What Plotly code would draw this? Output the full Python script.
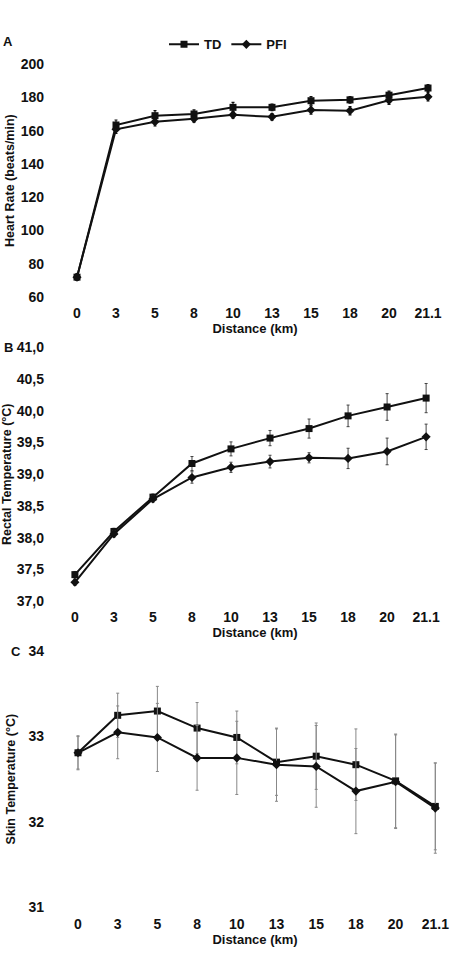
import plotly.graph_objects as go

# ---------------- data ----------------
distance_labels = ["0", "3", "5", "8", "10", "13", "15", "18", "20", "21.1"]

hr_td = [72, 163.4, 169, 170, 174, 174, 178, 178.5, 181.3, 185.6]
hr_td_err = [2, 3, 3, 2.5, 3, 2, 2.5, 2, 2.5, 2]
hr_pfi = [72, 160.8, 165.3, 167.1, 169.5, 168.3, 172.4, 172, 178.2, 180.3]
hr_pfi_err = [2, 2.5, 2.5, 2, 2, 2, 2.5, 2.5, 2.5, 2.5]

rt_td = [37.42, 38.10, 38.64, 39.17, 39.40, 39.57, 39.72, 39.92, 40.06, 40.20]
rt_td_err = [0.05, 0.05, 0.05, 0.11, 0.11, 0.12, 0.15, 0.17, 0.21, 0.23]
rt_pfi = [37.30, 38.06, 38.61, 38.95, 39.11, 39.20, 39.26, 39.25, 39.36, 39.59]
rt_pfi_err = [0.05, 0.05, 0.05, 0.09, 0.08, 0.10, 0.08, 0.16, 0.21, 0.20]

st_td = [32.81, 33.25, 33.30, 33.10, 32.99, 32.70, 32.77, 32.67, 32.48, 32.18]
st_td_err = [0.19, 0.26, 0.29, 0.30, 0.31, 0.39, 0.39, 0.42, 0.55, 0.51]
st_pfi = [32.81, 33.05, 32.99, 32.75, 32.75, 32.67, 32.65, 32.36, 32.47, 32.16]
st_pfi_err = [0.20, 0.31, 0.40, 0.38, 0.43, 0.43, 0.48, 0.50, 0.55, 0.53]

hr_ticks = [60, 80, 100, 120, 140, 160, 180, 200]
rt_ticks = [37.0, 37.5, 38.0, 38.5, 39.0, 39.5, 40.0, 40.5, 41.0]
rt_ticktext = ["37,0", "37,5", "38,0", "38,5", "39,0", "39,5", "40,0", "40,5", "41,0"]
st_ticks = [31, 32, 33, 34]

# ---------------- styling ----------------
W, H = 470, 966
FONT = "Liberation Sans, Arial, Helvetica, sans-serif"
BLACK = "#111111"


def py(px):
    return 1 - px / H


fig = go.Figure()

panels = [
    ("", hr_td, hr_td_err, hr_pfi, hr_pfi_err, True, BLACK, 1.2),
    ("2", rt_td, rt_td_err, rt_pfi, rt_pfi_err, False, "#444444", 1),
    ("3", st_td, st_td_err, st_pfi, st_pfi_err, False, "#888888", 1),
]

for ax, td, td_err, pfi, pfi_err, show, ecol, eth in panels:
    fig.add_trace(go.Scatter(
        x=distance_labels, y=td, name="TD", mode="lines+markers",
        line=dict(color=BLACK, width=2),
        marker=dict(symbol="square", size=7, color=BLACK),
        error_y=dict(type="data", array=td_err, color=ecol, thickness=eth, width=1.5),
        xaxis="x" + ax, yaxis="y" + ax, showlegend=show, cliponaxis=False,
    ))
    fig.add_trace(go.Scatter(
        x=distance_labels, y=pfi, name="PFI", mode="lines+markers",
        line=dict(color=BLACK, width=2),
        marker=dict(symbol="diamond", size=7, color=BLACK),
        error_y=dict(type="data", array=pfi_err, color=ecol, thickness=eth, width=1.5),
        xaxis="x" + ax, yaxis="y" + ax, showlegend=show, cliponaxis=False,
    ))

tickfont = dict(family=FONT, size=14, color=BLACK, weight="bold")
xtitlefont = dict(family=FONT, size=13, color=BLACK, weight="bold")
ytitlefont = dict(family=FONT, size=12.5, color=BLACK, weight="bold")

xdom = [55 / W, 455 / W]


def xaxis(anchor, r0, r1, title, standoff):
    return dict(
        type="category", domain=xdom, anchor=anchor, range=[r0, r1],
        showgrid=False, zeroline=False, showline=False, ticks="",
        tickfont=tickfont, ticklabelstandoff=standoff,
        title=dict(text=title, font=xtitlefont, standoff=1),
    )


def yaxis(anchor, dom, rng, tickvals, ticktext, title, standoff):
    return dict(
        domain=dom, anchor=anchor, range=rng,
        tickvals=tickvals, ticktext=ticktext,
        showgrid=False, zeroline=False, showline=False, ticks="",
        tickfont=tickfont, ticklabelstandoff=10,
        title=dict(text=title, font=ytitlefont, standoff=standoff),
    )


fig.update_layout(
    width=W, height=H,
    margin=dict(l=0, r=0, t=0, b=0),
    paper_bgcolor="white", plot_bgcolor="white",
    font=dict(family=FONT, color=BLACK),
    xaxis=xaxis("y", -0.564, 9.692, "Distance (km)", 6),
    xaxis2=xaxis("y2", -0.51, 9.74, "Distance (km)", 6),
    xaxis3=xaxis("y3", -0.579, 9.496, "Distance (km)", 7),
    yaxis=yaxis("x", [py(294), py(57)], [60, 200], hr_ticks,
                [str(v) for v in hr_ticks], "Heart Rate (beats/min)", 3),
    yaxis2=yaxis("x2", [py(603.3), py(345)], [37, 41], rt_ticks, rt_ticktext,
                 "Rectal Temperature (°C)", 3),
    yaxis3=yaxis("x3", [py(914), py(654.3)], [31, 34], st_ticks,
                 [str(v) for v in st_ticks], "Skin Temperature (°C)", 10),
    legend=dict(
        orientation="h", x=228 / W, xanchor="center", y=py(37), yanchor="middle",
        font=dict(family=FONT, size=13, color=BLACK, weight="bold"),
        itemwidth=30, tracegroupgap=0, bgcolor="rgba(0,0,0,0)",
    ),
    showlegend=True,
)

ann_font = dict(family=FONT, size=13, color=BLACK, weight="bold")
fig.add_annotation(x=8 / W, y=py(34), xref="paper", yref="paper", text="A",
                   showarrow=False, font=ann_font, xanchor="center", yanchor="middle")
fig.add_annotation(x=8 / W, y=py(345), xref="paper", yref="paper", text="B",
                   showarrow=False, font=ann_font, xanchor="center", yanchor="middle")
fig.add_annotation(x=16 / W, y=py(654), xref="paper", yref="paper", text="C",
                   showarrow=False, font=ann_font, xanchor="center", yanchor="middle")
fig.add_annotation(x="21.1", y=193, xref="x", yref="y", text="*",
                   showarrow=False, font=ann_font, yanchor="middle")
fig.add_annotation(x="21.1", y=40.6, xref="x2", yref="y2", text="*#",
                   showarrow=False, font=ann_font, yanchor="middle")

fig.write_html("out.html")
